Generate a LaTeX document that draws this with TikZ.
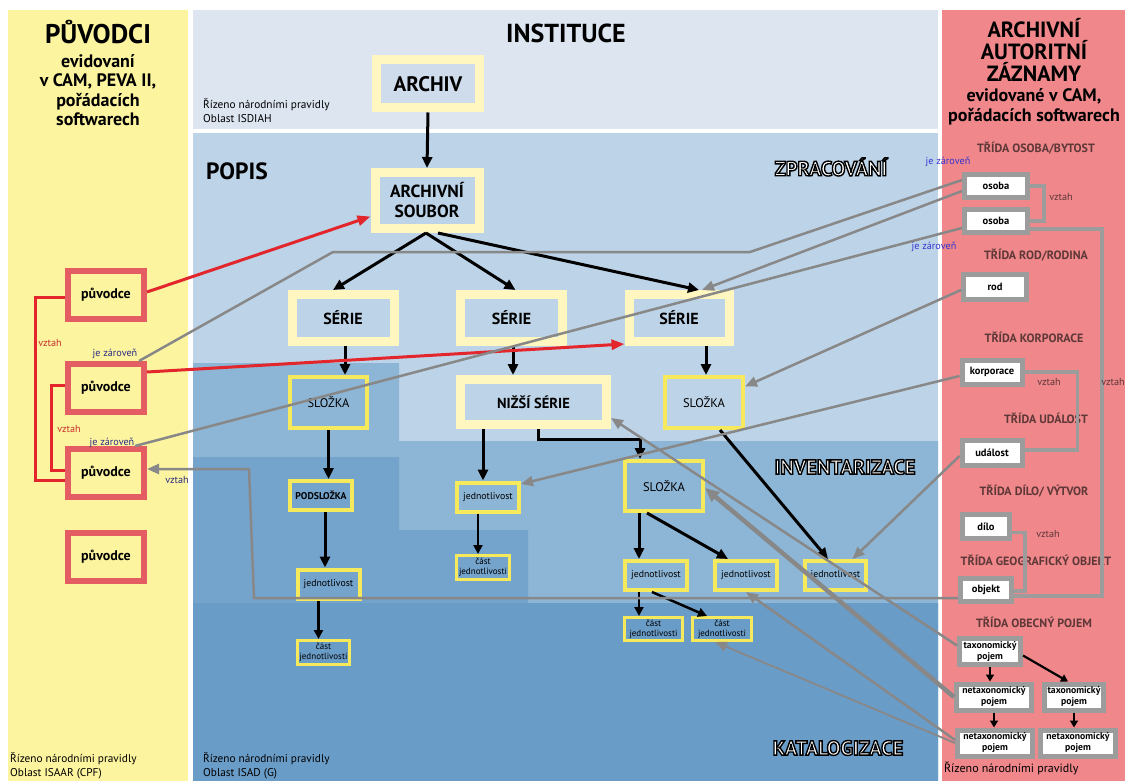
\documentclass[tikz,border=0pt]{standalone}
\usepackage{fontspec}
\setmainfont{PT Sans}
\usetikzlibrary{arrows.meta,calc}
\definecolor{ylpanel}{HTML}{FCF49F}
\definecolor{inst}{HTML}{DCE5F0}
\definecolor{bluA}{HTML}{BDD3E7}
\definecolor{bluB}{HTML}{8DB5D5}
\definecolor{bluC}{HTML}{74A3CC}
\definecolor{bluD}{HTML}{6A9CC8}
\definecolor{pinkp}{HTML}{EF878B}
\definecolor{frameY}{HTML}{FFF6C0}
\definecolor{brightY}{HTML}{F6EA5C}
\definecolor{redbx}{HTML}{E45D63}
\definecolor{redar}{HTML}{E2262C}
\definecolor{grayln}{HTML}{888888}
\definecolor{graybx}{HTML}{9C9C9C}
\definecolor{navy}{HTML}{2B2B85}
\definecolor{bluetx}{HTML}{3535D0}
\definecolor{tridac}{HTML}{5E3737}
\definecolor{archin}{HTML}{CFDCEB}
\definecolor{vztahred}{HTML}{C8302E}
\newcommand{\strokedtext}[1]{\special{pdf:literal direct 0 0 0 RG 2 Tr 1.4 w}#1\special{pdf:literal direct 0 Tr}}
\begin{document}
\begin{tikzpicture}[x=1pt,y=-1pt,
  bigf/.style={draw=frameY,line width=9pt,inner sep=0pt,align=center,font=\bfseries},
  smf/.style={draw=brightY,line width=4pt,inner sep=0pt,align=center},
  jd/.style={smf,minimum width=62pt,minimum height=29pt,font=\fontsize{9.8}{11}\selectfont},
  cst/.style={smf,line width=3pt,font=\fontsize{9}{10}\selectfont},
  redb/.style={draw=redbx,line width=6pt,fill=ylpanel,inner sep=0pt,minimum width=76pt,minimum height=48pt,font=\bfseries\fontsize{14}{16}\selectfont},
  grb/.style={draw=graybx,line width=5pt,fill=white,inner sep=0pt,align=center,font=\bfseries\fontsize{9.7}{11}\selectfont},
  blk/.style={line width=3pt,-{Triangle[length=11pt,width=10pt]}},
  blks/.style={line width=2.5pt,-{Triangle[length=9pt,width=9pt]}},
  blkr/.style={line width=2.2pt,-{Triangle[length=7pt,width=8pt]}},
  gar/.style={draw=grayln,line width=2.5pt,-{Triangle[length=12pt,width=10pt]}},
  gln/.style={draw=grayln,line width=2.5pt},
  gbr/.style={draw=graybx,line width=3.5pt},
  rar/.style={draw=redar,line width=3pt,-{Triangle[length=13pt,width=10pt]}},
  rbr/.style={draw=redar,line width=3pt},
  ttl/.style={font=\bfseries,align=center,inner sep=0pt},
  note/.style={font=\fontsize{11.3}{14}\selectfont,align=left,anchor=west,inner sep=0pt},
  lab/.style={font=\fontsize{10.2}{11}\selectfont,inner sep=0pt},
  trida/.style={font=\bfseries\fontsize{12}{13}\selectfont,text=tridac,inner sep=0pt},
  outl/.style={font=\bfseries\fontsize{20.5}{22}\selectfont,inner sep=0pt,text=white},
]
\useasboundingbox (0,0) rectangle (1125,781);
% backgrounds
\fill[white] (0,0) rectangle (1125,781);
\fill[ylpanel] (8,10) rectangle (188,781);
\fill[inst] (193,10) rectangle (938,129);
\fill[bluA] (193,133) rectangle (938,781);
\fill[bluB] (193,363) -- (399,363) -- (399,441) -- (938,441) -- (938,781) -- (193,781) -- cycle;
\fill[bluC] (193,457) -- (399,457) -- (399,530) -- (528,530) -- (528,603) -- (938,603) -- (938,781) -- (193,781) -- cycle;
\fill[bluD] (193,603) rectangle (938,781);
\fill[pinkp] (942,10) rectangle (1125,781);

% titles and notes
\node[ttl,font=\bfseries\fontsize{27}{28}\selectfont] (puvt) at (98,32) {PŮVODCI};
\node[ttl,font=\bfseries\fontsize{18}{19.3}\selectfont] (puvs) at (98,90) {evidovaní\\v CAM, PEVA II,\\pořádacích\\softwarech};
\node[ttl,font=\bfseries\fontsize{26}{28}\selectfont] (inst) at (566,33) {INSTITUCE};
\node[note] (nisdiah) at (203,111) {Řízeno národními pravidly\\Oblast ISDIAH};
\node[ttl,font=\bfseries\fontsize{23.5}{25}\selectfont] (popis) at (237,171) {POPIS};
\node[ttl,font=\bfseries\fontsize{22}{22}\selectfont] (aat) at (1034,50) {ARCHIVNÍ\\AUTORITNÍ\\ZÁZNAMY};
\node[ttl,font=\bfseries\fontsize{18}{20}\selectfont] (aas) at (1034,107) {evidované v CAM,\\pořádacích softwarech};
\node[note] (nisaar) at (10,766) {Řízeno národními pravidly\\Oblast ISAAR (CPF)};
\node[note] (nisad) at (203,766) {Řízeno národními pravidly\\Oblast ISAD (G)};
\node[note,font=\fontsize{12}{13}\selectfont] (nright) at (944,769) {Řízeno národními pravidly};
\node[outl] (zpr) at (831,167) {\strokedtext{ZPRACOVÁNÍ}};
\node[outl] (inv) at (845,467) {\strokedtext{INVENTARIZACE}};
\node[outl] (kat) at (838,748) {\strokedtext{KATALOGIZACE}};

% right class labels
\node[trida] (t1) at (1036,148) {TŘÍDA OSOBA/BYTOST};
\node[trida] (t2) at (1036,255) {TŘÍDA ROD/RODINA};
\node[trida] (t3) at (1034,337) {TŘÍDA KORPORACE};
\node[trida] (t4) at (1046,418) {TŘÍDA UDÁLOST};
\node[trida] (t5) at (1034,491) {TŘÍDA DÍLO/ VÝTVOR};
\node[trida] (t6) at (1036,560) {TŘÍDA GEOGRAFICKÝ OBJEKT};
\node[trida] (t7) at (1034,622) {TŘÍDA OBECNÝ POJEM};

% central nodes
\node[bigf,fill=archin,minimum width=103pt,minimum height=48pt,font=\bfseries\fontsize{21}{22}\selectfont] (archiv) at (428,84) {ARCHIV};
\node[bigf,minimum width=104pt,minimum height=56pt,font=\bfseries\fontsize{17.5}{20}\selectfont] (soubor) at (427,200.5) {ARCHIVNÍ\\SOUBOR};
\node[bigf,minimum width=102pt,minimum height=47pt,font=\bfseries\fontsize{16}{18}\selectfont] (serie1) at (343,318) {SÉRIE};
\node[bigf,minimum width=102pt,minimum height=47pt,font=\bfseries\fontsize{16}{18}\selectfont] (serie2) at (511.5,318) {SÉRIE};
\node[bigf,minimum width=100pt,minimum height=47pt,font=\bfseries\fontsize{16}{18}\selectfont] (serie3) at (679,318) {SÉRIE};
\node[bigf,minimum width=146pt,minimum height=45pt,font=\bfseries\fontsize{14.5}{16}\selectfont] (nizsi) at (533.5,402) {NIŽŠÍ SÉRIE};
\node[smf,minimum width=77pt,minimum height=51pt,font=\fontsize{12.5}{14}\selectfont] (slozka1) at (328.5,402.5) {SLOŽKA};
\node[smf,minimum width=78pt,minimum height=51pt,font=\fontsize{12.5}{14}\selectfont] (slozka2) at (704,402.5) {SLOŽKA};
\node[smf,minimum width=78pt,minimum height=50pt,font=\fontsize{12.5}{14}\selectfont] (slozka3) at (664,486) {SLOŽKA};
\node[smf,minimum width=62pt,minimum height=29pt,font=\bfseries\fontsize{9.8}{11}\selectfont] (podslozka) at (321,495.5) {PODSLOŽKA};
\node[jd] (jedn1) at (328.5,584) {jednotlivost};
\node[jd] (jedn2) at (488,497) {jednotlivost};
\node[jd] (jedna) at (656,575.5) {jednotlivost};
\node[jd] (jednb) at (746,575.5) {jednotlivost};
\node[jd,minimum width=61pt] (jednc) at (835.5,575.5) {jednotlivost};
\node[cst,minimum width=52pt,minimum height=24pt] (cast1) at (323.5,652.5) {část\\jednotlivosti};
\node[cst,minimum width=53pt,minimum height=24pt] (cast2) at (483,567.5) {část\\jednotlivosti};
\node[cst,minimum width=58pt,minimum height=23pt] (casta) at (653.5,629) {část\\jednotlivosti};
\node[cst,minimum width=59pt,minimum height=23pt] (castb) at (722,629) {část\\jednotlivosti};

% left nodes
\node[redb] (p1) at (106,295) {původce};
\node[redb] (p2) at (106,388) {původce};
\node[redb] (p3) at (106,473) {původce};
\node[redb] (p4) at (106,557) {původce};

% right nodes
\node[grb,minimum width=63pt,minimum height=23pt,font=\bfseries\fontsize{10.5}{12}\selectfont] (osoba1) at (996,186) {osoba};
\node[grb,minimum width=63pt,minimum height=23pt,font=\bfseries\fontsize{10.5}{12}\selectfont] (osoba2) at (996,221) {osoba};
\node[grb,minimum width=63pt,minimum height=25pt,font=\bfseries\fontsize{10.5}{12}\selectfont] (rod) at (995,287) {rod};
\node[grb,minimum width=60pt,minimum height=24pt,font=\bfseries\fontsize{10.5}{12}\selectfont] (korp) at (992,372) {korporace};
\node[grb,minimum width=60pt,minimum height=25pt,font=\bfseries\fontsize{10.5}{12}\selectfont] (udalost) at (992,453) {událost};
\node[grb,minimum width=47pt,minimum height=24pt,font=\bfseries\fontsize{10.5}{12}\selectfont] (dilo) at (986,526.5) {dílo};
\node[grb,minimum width=51pt,minimum height=23pt,font=\bfseries\fontsize{10.5}{12}\selectfont] (objekt) at (986,590) {objekt};
\node[grb,minimum width=61pt,minimum height=26pt] (tax1) at (990,651.5) {taxonomický\\pojem};
\node[grb,minimum width=75pt,minimum height=26pt] (net1) at (994,697) {netaxonomický\\pojem};
\node[grb,minimum width=59pt,minimum height=26pt] (tax2) at (1074,697) {taxonomický\\pojem};
\node[grb,minimum width=75pt,minimum height=26pt] (net3) at (995,743) {netaxonomický\\pojem};
\node[grb,minimum width=75pt,minimum height=26pt] (net4) at (1078,743) {netaxonomický\\pojem};

% gray brackets (right)
\draw[gbr] (osoba1.east) -- ++(14,0) |- (osoba2.east);
\draw[gbr] ([yshift=-8pt]osoba2.east) -- ++(72,0) |- ([yshift=-6pt]objekt.east);
\draw[gbr] (korp.east) -- ++(53,0) |- ([yshift=3pt]udalost.east);
\draw[gbr] ([yshift=-6pt]dilo.east) -- ++(13,0) |- ([yshift=-1pt]objekt.east);
\node[lab,text=tridac] (v1) at (1061,197) {vztah};
\node[lab,text=tridac] (v2) at (1049,382) {vztah};
\node[lab,text=tridac] (v3) at (1113,382) {vztah};
\node[lab,text=tridac] (v4) at (1048,534) {vztah};

% black arrows
\draw[blk] (archiv.south) -- (soubor.north);
\draw[blk] ([xshift=-1pt]soubor.south) -- ([xshift=-10pt]serie1.north);
\draw[blk] ([xshift=-1pt]soubor.south) -- ([xshift=4pt]serie2.north);
\draw[blk] ([xshift=11pt]soubor.south) -- ([xshift=20pt]serie3.north);
\draw[blk] ([xshift=2pt]serie1.south) -- ([xshift=2pt]serie1.south |- slozka1.north);
\draw[blk] ([xshift=1.5pt]serie2.south) -- ([xshift=1.5pt]serie2.south |- nizsi.north);
\draw[blk] ([xshift=27pt]serie3.south) -- ([xshift=27pt]serie3.south |- slozka2.north);
\draw[blk] (slozka1.south) -- (slozka1.south |- podslozka.north);
\draw[blk] ([xshift=4pt]podslozka.south) -- ([xshift=4pt]podslozka.south |- jedn1.north);
\draw[blks] ([xshift=-10pt]jedn1.south) -- ([xshift=-10pt]jedn1.south |- cast1.north);
\draw[blk] ([xshift=-5pt]jedn2.north |- nizsi.south) -- ([xshift=-5pt]jedn2.north);
\draw[blks] ([xshift=-5pt]cast2.north |- jedn2.south) -- ([xshift=-5pt]cast2.north);
\draw[blk] ([xshift=4.5pt]nizsi.south) -- ++(0,10) -| ([xshift=-24pt]slozka3.north);
\draw[blk] ([xshift=-17pt]jedna.north |- slozka3.south) -- ([xshift=-17pt]jedna.north);
\draw[blk] ([xshift=-17pt]slozka3.south) -- ([xshift=-18pt]jednb.north);
\draw[blk] ([xshift=16pt]slozka2.south) -- ([xshift=-7.5pt]jednc.north);
\draw[blks] ([xshift=-17pt]jedna.south) -- ([xshift=-17pt]jedna.south |- casta.north);
\draw[blks] ([xshift=-4pt]jedna.south) -- ([xshift=-15pt]castb.north);
\draw[blkr] (tax1.south) -- (tax1.south |- net1.north);
\draw[blkr] ([yshift=-4pt]tax1.east) -- ([xshift=-6pt]tax2.north);
\draw[blkr] (net1.south) -- (net1.south |- net3.north);
\draw[blkr] (tax2.south) -- (tax2.south |- net4.north);

% red connectors
\draw[rbr] ([yshift=-2pt]p1.west) -- ++(-30,0) |- ([yshift=-7pt]p3.west);
\draw[rbr] ([yshift=3pt]p2.west) -- ++(-14,0) |- ([yshift=3pt]p3.west);
\draw[rar] ([yshift=3pt]p1.east) -- ([yshift=-16pt]soubor.west);
\draw[rar] ([yshift=16pt]p2.east) -- ([yshift=2pt]serie3.south west);
\node[lab,text=vztahred] (rv1) at (50,343) {vztah};
\node[lab,text=vztahred] (rv2) at (69,429) {vztah};

% gray connectors
\coordinate (b1) at (750,252);
\coordinate (b2) at (333,252);
\coordinate (ob1) at (254,598);
\coordinate (ob2) at (249,469);
\draw[gln] ([yshift=6pt]osoba1.west) -- (b1) -- (b2) -- ([xshift=-8pt]p2.north east);
\draw[gar] ([yshift=-5pt]osoba1.west) -- ([xshift=23pt]serie3.north);
\draw[gln] ([yshift=-7pt]osoba2.west) -- ([xshift=-12pt]p3.north east);
\draw[gar] ([yshift=-3pt]rod.west) -- ([yshift=16pt]slozka2.east);
\draw[gar] ([yshift=-4pt]korp.west) -- ([yshift=13pt]jedn2.east);
\draw[gar] ([yshift=-3pt]udalost.west) -- ([xshift=17pt]jednc.north);
\draw[gar] ([yshift=-8pt]objekt.west) -- (ob1) -- (ob2) -- ([yshift=4pt]p3.east);
\draw[gar] ([yshift=6pt]tax1.west) -- ([yshift=11pt]nizsi.south east);
\draw[gar,line width=4.5pt,-{Triangle[length=14pt,width=12pt]}] (net1.west) -- ([yshift=-2pt]slozka3.east);
\draw[gar] ([yshift=3pt]net3.west) -- (jednb.south);
\draw[gar,line width=1.8pt] (net3.west) -- ([xshift=-7pt]castb.south);

% small labels
\node[lab,text=navy] (jz1) at (115,354) {je zároveň};
\node[lab,text=navy] (jz2) at (112,443) {je zároveň};
\node[lab,text=navy] (vz3) at (177,480) {vztah};
\node[lab,text=bluetx] (jz3) at (948,162) {je zároveň};
\node[lab,text=bluetx] (jz4) at (934,247) {je zároveň};
\end{tikzpicture}
\end{document}
